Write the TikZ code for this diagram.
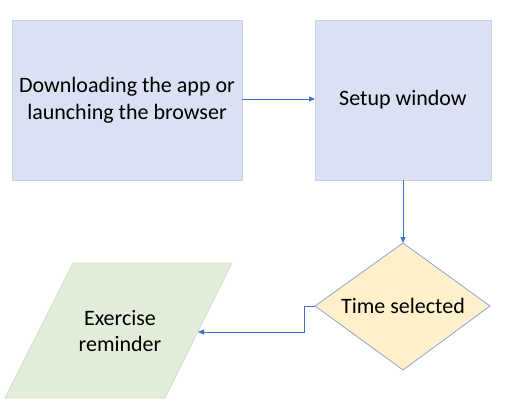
\documentclass[tikz,border=0pt]{standalone}
\usepackage{fontspec}
\setmainfont{Carlito}
\usetikzlibrary{arrows.meta}
\definecolor{boxfill}{HTML}{DAE1F2}
\definecolor{boxline}{HTML}{CCD2DE}
\definecolor{decfill}{HTML}{FFF0CC}
\definecolor{decline}{HTML}{8FA5CC}
\definecolor{iofill}{HTML}{E2EDDA}
\definecolor{ioline}{HTML}{D5DECF}
\definecolor{arr}{HTML}{4472C4}
\tikzset{
  procbox/.style={draw=boxline, fill=boxfill, line width=1pt},
  txt/.style={font=\fontsize{22}{26.5}\selectfont, align=center, text=black},
  conn/.style={draw=arr, line width=0.8pt, -{Triangle[length=6pt,width=5pt]}},
}
\begin{document}
\begin{tikzpicture}[x=1pt,y=-1pt]
\useasboundingbox (0,0) rectangle (506,416);
% boxes
\path[procbox] (12,20) rectangle (242,180);
\node[txt] (a) at (127,100) {Downloading the app or\\launching the browser};
\coordinate (aE) at (242,99);
\path[procbox] (315,20) rectangle (491,180);
\node[txt] (b) at (403,100) {Setup window};
\coordinate (bW) at (315,99);
\coordinate (bS) at (403,180);
% diamond
\path[draw=decline, fill=decfill, line width=0.8pt] (403,243) -- (490,306) -- (403,370) -- (315,306) -- cycle;
\node[txt] (c) at (403,306) {Time selected};
\coordinate (cN) at (403,243);
\coordinate (cW) at (315,306);
% parallelogram
\path[draw=ioline, fill=iofill, line width=0.8pt] (73,263) -- (232,263) -- (165,398) -- (5,398) -- cycle;
\node[txt] (d) at (120,331) {Exercise\\reminder};
\coordinate (dE) at (198,332);
% connectors
\draw[conn] (aE) -- (bW);
\draw[conn] (bS) -- (cN);
\draw[conn] (cW) -- (304,306) -- (304,332) -- (dE);
\end{tikzpicture}
\end{document}
